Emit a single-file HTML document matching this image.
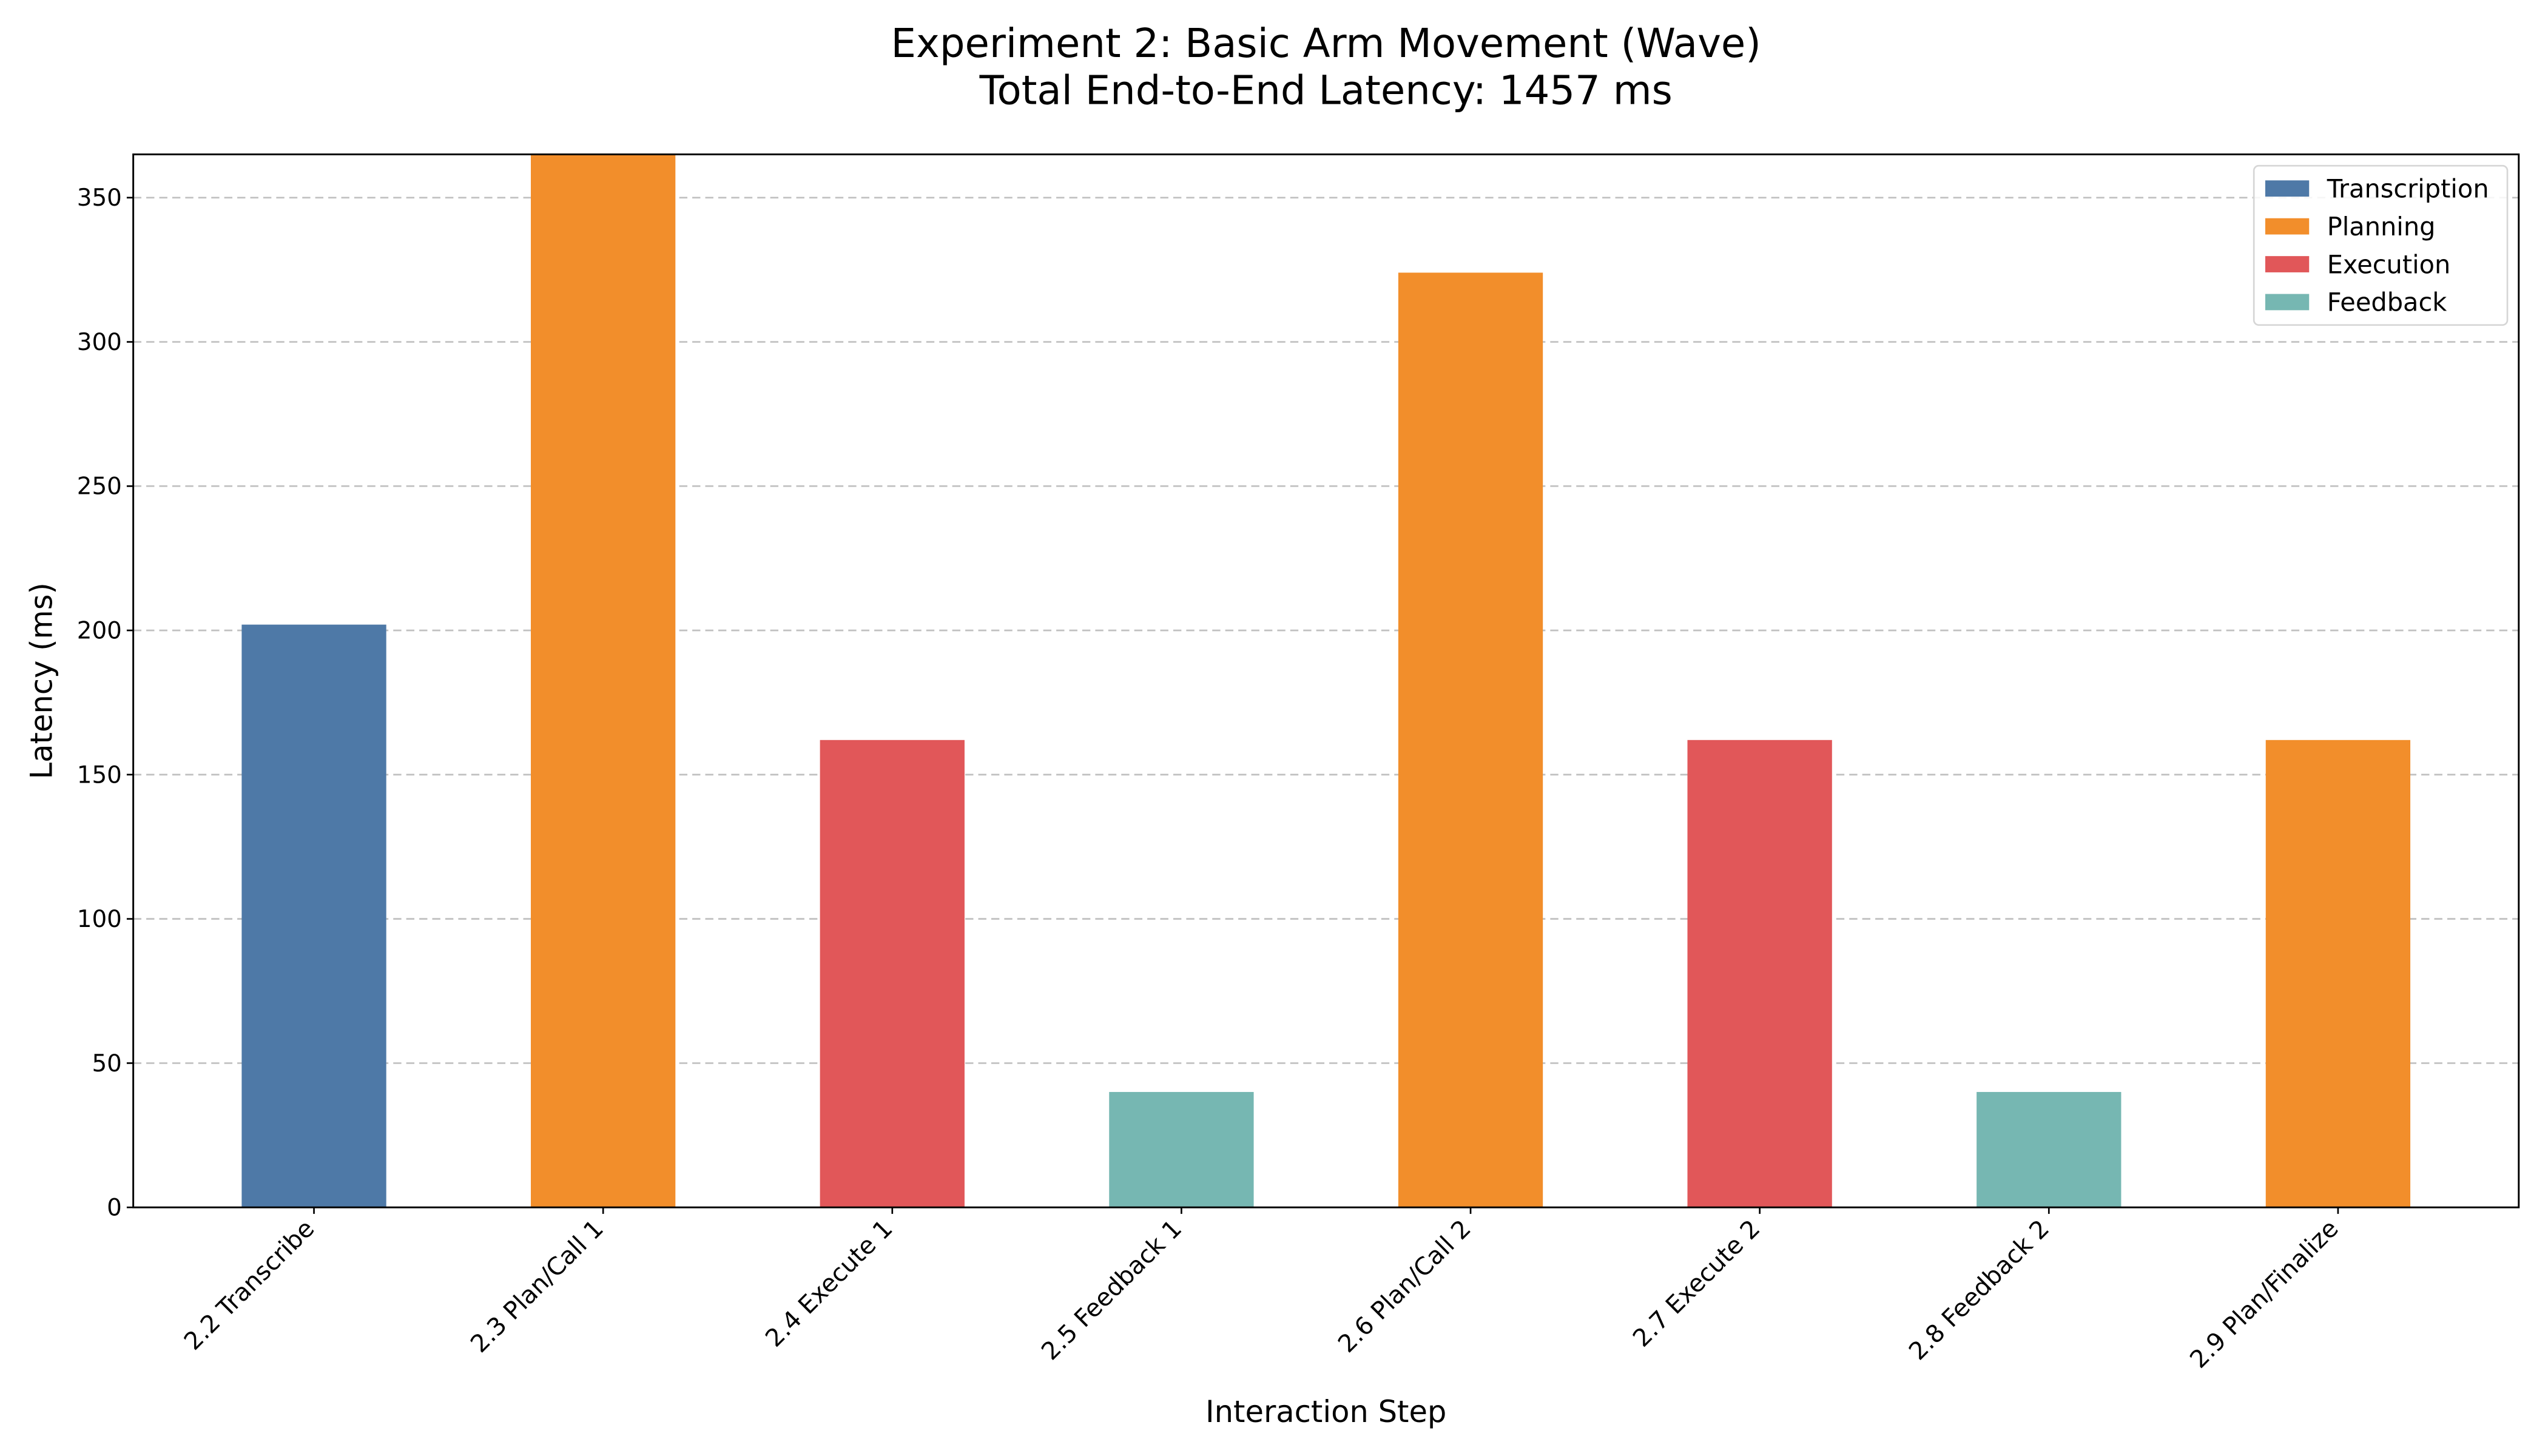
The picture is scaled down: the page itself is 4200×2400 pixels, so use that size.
<!DOCTYPE html>
<html><head><meta charset="utf-8"><style>html,body{margin:0;padding:0;background:#fff}svg{display:block}text{font-family:"DejaVu Sans","Liberation Sans",sans-serif}</style></head>
<body>
<svg id="chart" width="4200" height="2400" viewBox="0 0 1568 896" xmlns="http://www.w3.org/2000/svg">
<rect width="1568" height="896" fill="#fff"/>
<text x="816" y="35" font-size="24.5" text-anchor="middle">Experiment 2: Basic Arm Movement (Wave)</text>
<text x="816" y="64" font-size="24.5" text-anchor="middle">Total End-to-End Latency: 1457 ms</text>
<g id="grid"></g><g id="bars"></g><g id="axes"></g>
<text transform="translate(32,419) rotate(-90)" font-size="18.5" text-anchor="middle">Latency (ms)</text>
<text x="816" y="875" font-size="18.5" text-anchor="middle">Interaction Step</text>
<g id="legend"></g>
</svg>
<script>
const categories=["2.2 Transcribe","2.3 Plan/Call 1","2.4 Execute 1","2.5 Feedback 1","2.6 Plan/Call 2","2.7 Execute 2","2.8 Feedback 2","2.9 Plan/Finalize"];
const values=[202,365,162,40,324,162,40,162];
const phases=["Transcription","Planning","Execution","Feedback","Planning","Execution","Feedback","Planning"];
const legendLabels=["Transcription","Planning","Execution","Feedback"];
const yTicks=[0,50,100,150,200,250,300,350];
const colors={Transcription:"#4e79a7",Planning:"#f28e2b",Execution:"#e15759",Feedback:"#76b7b2"};
const L=82,R=1550,T=95,B=743,yMax=365,xMin=-0.625,xMax=7.625;
const NS="http://www.w3.org/2000/svg";
const y=v=>B-(v/yMax)*(B-T);
const x=i=>L+(i-xMin)/(xMax-xMin)*(R-L);
const bw=0.5*(R-L)/(xMax-xMin);
function mk(tag,attrs,parent){const e=document.createElementNS(NS,tag);for(const k in attrs)e.setAttribute(k,attrs[k]);parent.appendChild(e);return e;}
const grid=document.getElementById('grid'),bars=document.getElementById('bars'),axes=document.getElementById('axes'),leg=document.getElementById('legend');
yTicks.forEach(t=>{
 if(t>0){const g=mk('line',{x1:L,x2:R,y1:y(t),y2:y(t),stroke:'#c0c0c0','stroke-width':1,'stroke-dasharray':'5,3'},grid);
 
 }
 const tk=mk('line',{x1:L-4,x2:L,y1:y(t),y2:y(t),stroke:'#000','stroke-width':1},axes);
 
 
 const tl=mk('text',{x:L-7,y:y(t)+5,'font-size':14.5,'text-anchor':'end'},axes);tl.textContent=t;
 
 
});
values.forEach((v,i)=>{
 const top=Math.max(y(v),T);
 const r=mk('rect',{x:x(i)-bw/2,y:top,width:bw,height:B-top,fill:colors[phases[i]]},bars);
 
 
 const tk=mk('line',{x1:x(i),x2:x(i),y1:B,y2:B+4,stroke:'#000','stroke-width':1},axes);
 
 
 const tl=mk('text',{transform:`translate(${x(i)+1},${B+14}) rotate(-45)`,'font-size':15,'text-anchor':'end'},axes);tl.textContent=categories[i];
 
 
});
const fr=mk('rect',{x:L,y:T,width:R-L,height:B-T,fill:'none',stroke:'#000','stroke-width':1.1},axes);


const lb=mk('rect',{x:1387,y:102,width:156,height:98,rx:3,fill:'#fff','fill-opacity':0.85,stroke:'#d6d6d6','stroke-width':1},leg);


legendLabels.forEach((n,k)=>{
 const cy=116+k*23.3;
 const p=mk('rect',{x:1394,y:cy-5,width:27,height:10,fill:colors[n]},leg);
 
 
 const t=mk('text',{x:1432,y:cy+5.5,'font-size':15.5},leg);t.textContent=n;
 
 
});
</script>
</body></html>
